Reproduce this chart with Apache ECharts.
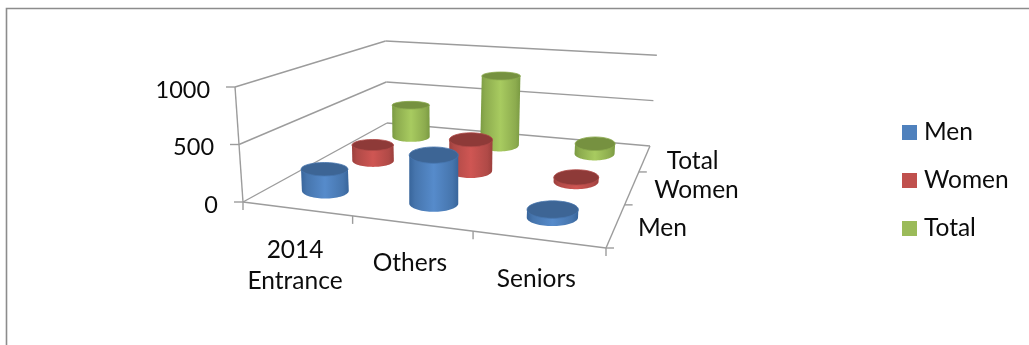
<!DOCTYPE html>
<html>
<head>
<meta charset="utf-8">
<style>html,body{margin:0;padding:0;background:#fff}#chart{width:1029px;height:345px}</style>
<script src="https://cdn.jsdelivr.net/npm/echarts@6/dist/echarts.min.js"></script>
</head>
<body>
<div id="chart"></div>
<script>
// Chart content
const categories = ['2014\nEntrance', 'Others', 'Seniors'];
const depthLabels = ['Men', 'Women', 'Total'];
const valueTicks = [0, 500, 1000];
const men = [195, 420, 65];
const women = [160, 305, 40];
const total = [360, 760, 105];

const FONT = '24.5px Lato, sans-serif';
const VALUE_FONT = '23.5px Lato, sans-serif';
const TEXT = '#0c0c0c';
const WALL = '#9c9c9c';

// Perspective floor: four corners in the order near-left, near-right, far-right, far-left
const floorCorners = [[243, 202], [606, 248], [650, 146], [387, 123]];
const VANISH = [436, 2984];      // where the vertical edges converge
const RADIUS = 24.5;             // cylinder radius before perspective scaling

const [A, B, D, C] = floorCorners;
const sx = A[0] - B[0] + D[0] - C[0], sy = A[1] - B[1] + D[1] - C[1];
const dx1 = B[0] - D[0], dx2 = C[0] - D[0], dy1 = B[1] - D[1], dy2 = C[1] - D[1];
const den = dx1 * dy2 - dx2 * dy1;
const G = (sx * dy2 - dx2 * sy) / den;
const H = (dx1 * sy - sx * dy1) / den;

function onFloor(u, d) {
  const w = 1 + G * u + H * d;
  return {
    w,
    x: (A[0] + (B[0] - A[0] + G * B[0]) * u + (C[0] - A[0] + H * C[0]) * d) / w,
    y: (A[1] + (B[1] - A[1] + G * B[1]) * u + (C[1] - A[1] + H * C[1]) * d) / w
  };
}
// A point above the floor; h is the fraction of the value axis, wallH its height in pixels
function project(u, d, h, wallH) {
  const p = onFloor(u, d);
  const up = wallH * h / p.w;
  return { w: p.w, x: p.x - (p.x - VANISH[0]) / (p.y - VANISH[1]) * up, y: p.y - up };
}
// Axis fractions from the library's own scales
function fractions(params, api, cat, val) {
  const c = api.coord([cat, val]), g = params.coordSys;
  return { u: (c[0] - g.x) / g.width, h: (g.y + g.height - c[1]) / g.height, wallH: g.height };
}
function seg(a, b, width) {
  return { type: 'line', silent: true, shape: { x1: a.x, y1: a.y, x2: b.x, y2: b.y },
           style: { stroke: WALL, lineWidth: width || 1.4 } };
}
function label(text, x, y, align, vAlign, font) {
  return { type: 'text', silent: true,
           style: { text, x, y, font: font || FONT, fill: TEXT, align, verticalAlign: vAlign, lineHeight: 31 } };
}

// Gridlines on the two back walls, value ticks and value labels
function renderValueWall(params, api) {
  const f = fractions(params, api, 0, api.value(1));
  const near = project(0, 0, f.h, f.wallH), farL = project(0, 1, f.h, f.wallH), farR = project(1, 1, f.h, f.wallH);
  const kids = [seg(near, farL), seg(farL, farR),
                seg(near, { x: near.x - 9, y: near.y }),
                label(String(api.value(1)), near.x - 25, near.y + 3, 'right', 'middle', VALUE_FONT)];
  if (params.dataIndex === 0) {
    const g = f.wallH;
    kids.push(seg(near, project(0, 0, 1, g)), seg(near, project(1, 0, 0, g)), seg(project(1, 0, 0, g), farR),
              seg(near, { x: near.x, y: near.y + 8 }));
  }
  return { type: 'group', children: kids };
}
// Ticks and labels along the front edge
function renderCategoryAxis(params, api) {
  const i = api.value(0), f = fractions(params, api, i, 0), g = f.wallH;
  const mid = project(f.u, 0, 0, g), edge = project((i + 1) / categories.length, 0, 0, g);
  const drop = categories[i].includes('\n') ? 26 : 24;
  return { type: 'group', children: [
    seg(edge, { x: edge.x, y: edge.y + 8 }),
    label(categories[i], mid.x - 1.5, mid.y + drop, 'center', 'top')
  ] };
}
// Ticks and labels along the right edge of the floor
function renderDepthAxis(params, api) {
  const i = params.dataIndex, g = params.coordSys.height;
  const mid = project(1, (i + 0.5) / depthLabels.length, 0, g);
  const tick = project(1, i / depthLabels.length, 0, g);
  return { type: 'group', children: [
    seg(tick, { x: tick.x + 8, y: tick.y }),
    label(depthLabels[i], mid.x + 22, mid.y + 3, 'left', 'middle')
  ] };
}

// Ellipse flattening grows towards the lower right of the plot
function flatten(p) {
  return Math.min(0.34, Math.max(0.18, 0.2 + (p.y - 90) * 0.0022 + (p.x - 450) * 0.0007));
}
function cylinderRenderer(rowIndex, palette) {
  return function (params, api) {
    const f = fractions(params, api, api.value(0), api.value(1));
    const d = (rowIndex + 0.5) / depthLabels.length;
    const base = project(f.u, d, 0, f.wallH), top = project(f.u, d, f.h, f.wallH);
    const rx = RADIUS / base.w;
    const ryBase = rx * flatten(base), ryTop = rx * flatten(top);
    const side = [];
    for (let a = 0; a <= 36; a++) {
      const t = Math.PI * a / 36;
      side.push([base.x - rx * Math.cos(t), base.y + ryBase * Math.sin(t)]);
    }
    side.push([top.x + rx, top.y], [top.x - rx, top.y]);
    return { type: 'group', children: [
      { type: 'polygon', silent: true, shape: { points: side }, style: {
          fill: { type: 'linear', x: 0, y: 0, x2: 1, y2: 0, colorStops: [
            { offset: 0, color: palette.edge }, { offset: 0.12, color: palette.mid },
            { offset: 0.5, color: palette.light }, { offset: 0.88, color: palette.mid },
            { offset: 1, color: palette.edge } ] } } },
      { type: 'ellipse', silent: true, shape: { cx: top.x, cy: top.y, rx, ry: ryTop }, style: {
          fill: palette.cap, stroke: palette.mid, lineWidth: 0.8 } }
    ] };
  };
}
function cylinderSeries(name, values, rowIndex, color, palette) {
  return { name, type: 'custom', coordinateSystem: 'cartesian2d', animation: false, clip: false,
           itemStyle: { color }, encode: { x: 0, y: 1 },
           renderItem: cylinderRenderer(rowIndex, palette),
           data: values.map((v, i) => [i, v]) };
}
function frameSeries(render, data) {
  return { type: 'custom', coordinateSystem: 'cartesian2d', animation: false, clip: false,
           encode: { x: 0, y: 1 }, renderItem: render, data };
}

const chart = echarts.init(document.getElementById('chart'), null, { renderer: 'canvas' });
chart.setOption({
  backgroundColor: '#fff',
  animation: false,
  grid: { left: A[0], width: 363, top: 87, height: 115 },
  xAxis: { type: 'category', data: categories, show: false },
  yAxis: { type: 'value', min: 0, max: 1000, interval: 500, show: false },
  legend: {
    orient: 'vertical', left: 902, top: 119, padding: 0, itemWidth: 15, itemHeight: 15, itemGap: 21,
    selectedMode: false, icon: 'rect', data: ['Men', 'Women', 'Total'],
    textStyle: { fontFamily: 'Lato, sans-serif', fontSize: 24.5, color: TEXT, padding: [0, 0, 0, 2], lineHeight: 27 }
  },
  graphic: [{ type: 'rect', silent: true, shape: { x: 6.5, y: 8.5, width: 1200, height: 600 },
              style: { fill: 'none', stroke: '#8c8c8c', lineWidth: 1.6 } }],
  series: [
    frameSeries(renderValueWall, valueTicks.map(v => [0, v])),
    frameSeries(renderCategoryAxis, categories.map((c, i) => [i, 0])),
    frameSeries(renderDepthAxis, depthLabels.map((c, i) => [0, 0])),
    cylinderSeries('Total', total, 2, '#9BBB59', { edge: '#7a9a42', mid: '#8cab4e', light: '#a8cb60', cap: '#769140' }),
    cylinderSeries('Women', women, 1, '#C0504D', { edge: '#9c3f3c', mid: '#b04a47', light: '#cf5653', cap: '#8e3a38' }),
    cylinderSeries('Men', men, 0, '#4F81BD', { edge: '#38659b', mid: '#4675ad', light: '#568bcb', cap: '#3d6595' })
  ]
});
</script>
</body>
</html>
